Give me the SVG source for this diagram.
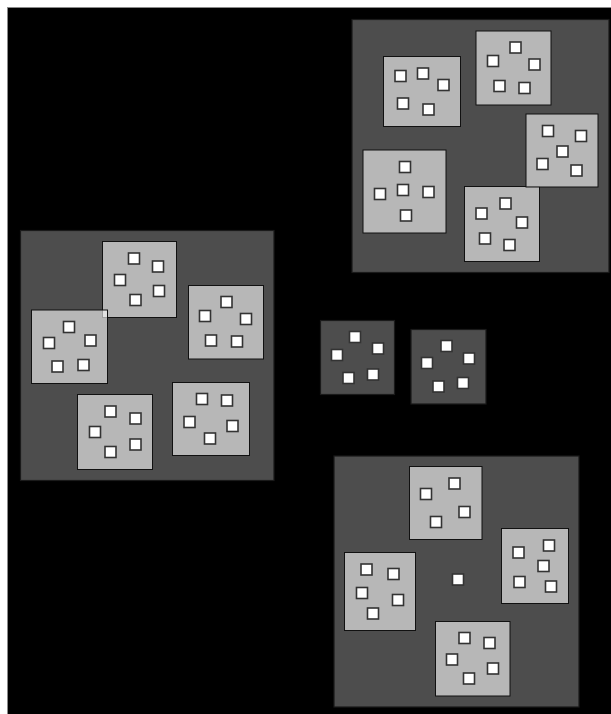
<svg xmlns="http://www.w3.org/2000/svg" width="611" height="714" viewBox="0 0 611 714">
<style>
.big{fill:#4d4d4d;stroke:#1a1a1a;stroke-width:1.2}
.box{fill:#ffffff;fill-opacity:0.6;stroke:#111;stroke-width:1}
.sq{fill:#ffffff;stroke:#333;stroke-width:1.6}
</style>
<rect x="0" y="0" width="611" height="714" fill="#ffffff"/>
<rect x="7.5" y="7.5" width="610" height="712" fill="#000000" stroke="#8a8a8a" stroke-width="1"/>
<g id="cluster-top-right">
<rect class="big" x="352" y="19.5" width="257" height="253"/>
<g id="A"><rect class="box" x="383.5" y="56.5" width="77" height="70"/>
<rect class="sq" x="395" y="70.5" width="11" height="11"/><rect class="sq" x="417.5" y="68" width="11" height="11"/><rect class="sq" x="438" y="79.5" width="11" height="11"/><rect class="sq" x="397.5" y="98" width="11" height="11"/><rect class="sq" x="423" y="104" width="11" height="11"/></g>
<g id="B"><rect class="box" x="476" y="31" width="75" height="74"/>
<rect class="sq" x="510" y="42" width="11" height="11"/><rect class="sq" x="487.5" y="55.5" width="11" height="11"/><rect class="sq" x="529" y="59" width="11" height="11"/><rect class="sq" x="494" y="80.5" width="11" height="11"/><rect class="sq" x="519" y="82.5" width="11" height="11"/></g>
<g id="E"><rect class="box" x="464.5" y="186.5" width="75" height="75"/>
<rect class="sq" x="500" y="198" width="11" height="11"/><rect class="sq" x="476" y="208" width="11" height="11"/><rect class="sq" x="516.5" y="217" width="11" height="11"/><rect class="sq" x="479.5" y="233" width="11" height="11"/><rect class="sq" x="504" y="239.5" width="11" height="11"/></g>
<g id="C"><rect class="box" x="526" y="114" width="72" height="73"/>
<rect class="sq" x="542.5" y="125.5" width="11" height="11"/><rect class="sq" x="575.5" y="130.5" width="11" height="11"/><rect class="sq" x="557" y="146" width="11" height="11"/><rect class="sq" x="537" y="158.5" width="11" height="11"/><rect class="sq" x="571" y="165" width="11" height="11"/></g>
<g id="D"><rect class="box" x="363" y="150" width="83" height="83"/>
<rect class="sq" x="399.5" y="161.5" width="11" height="11"/><rect class="sq" x="374.5" y="188.5" width="11" height="11"/><rect class="sq" x="397.5" y="184.5" width="11" height="11"/><rect class="sq" x="423" y="186.5" width="11" height="11"/><rect class="sq" x="400.5" y="210" width="11" height="11"/></g>
</g>
<g id="cluster-left">
<rect class="big" x="20.5" y="230.5" width="253.5" height="250"/>
<g id="F"><rect class="box" x="102.5" y="241.5" width="74" height="76"/>
<rect class="sq" x="128.5" y="253" width="11" height="11"/><rect class="sq" x="152.5" y="261" width="11" height="11"/><rect class="sq" x="114.5" y="274.5" width="11" height="11"/><rect class="sq" x="153.5" y="285.5" width="11" height="11"/><rect class="sq" x="130" y="294.5" width="11" height="11"/></g>
<g id="G"><rect class="box" x="31.5" y="310" width="76" height="73.5"/>
<rect class="sq" x="63.5" y="321.5" width="11" height="11"/><rect class="sq" x="43.5" y="337.5" width="11" height="11"/><rect class="sq" x="85" y="335" width="11" height="11"/><rect class="sq" x="52" y="361" width="11" height="11"/><rect class="sq" x="78" y="359.5" width="11" height="11"/></g>
<g id="H"><rect class="box" x="188.5" y="285.5" width="75" height="73.5"/>
<rect class="sq" x="221" y="296.5" width="11" height="11"/><rect class="sq" x="199.5" y="310.5" width="11" height="11"/><rect class="sq" x="240.5" y="313.5" width="11" height="11"/><rect class="sq" x="205.5" y="335" width="11" height="11"/><rect class="sq" x="231.5" y="336" width="11" height="11"/></g>
<g id="I"><rect class="box" x="77.5" y="394.5" width="75" height="75"/>
<rect class="sq" x="105" y="406" width="11" height="11"/><rect class="sq" x="130" y="413" width="11" height="11"/><rect class="sq" x="89.5" y="426.5" width="11" height="11"/><rect class="sq" x="130" y="439" width="11" height="11"/><rect class="sq" x="105" y="446.5" width="11" height="11"/></g>
<g id="J"><rect class="box" x="172.5" y="382.5" width="77" height="73"/>
<rect class="sq" x="196.5" y="393.5" width="11" height="11"/><rect class="sq" x="221.5" y="395" width="11" height="11"/><rect class="sq" x="184" y="416.5" width="11" height="11"/><rect class="sq" x="227" y="420.5" width="11" height="11"/><rect class="sq" x="204.5" y="433" width="11" height="11"/></g>
</g>
<g id="K">
<rect class="big" x="320.5" y="320.5" width="74" height="74"/>
<rect class="sq" x="349.5" y="331.5" width="11" height="11"/><rect class="sq" x="372.5" y="343" width="11" height="11"/><rect class="sq" x="331.5" y="349.5" width="11" height="11"/><rect class="sq" x="343" y="372.5" width="11" height="11"/><rect class="sq" x="367.5" y="369" width="11" height="11"/>
</g>
<g id="L">
<rect class="big" x="411" y="329.5" width="75" height="74.5"/>
<rect class="sq" x="441" y="340.5" width="11" height="11"/><rect class="sq" x="463.5" y="353" width="11" height="11"/><rect class="sq" x="421.5" y="357.5" width="11" height="11"/><rect class="sq" x="433" y="381" width="11" height="11"/><rect class="sq" x="457.5" y="377.5" width="11" height="11"/>
</g>
<g id="cluster-bottom">
<rect class="big" x="334" y="456" width="245" height="251"/>
<g id="M"><rect class="box" x="409.5" y="466.5" width="72.5" height="73"/>
<rect class="sq" x="420.5" y="488.5" width="11" height="11"/><rect class="sq" x="449" y="478" width="11" height="11"/><rect class="sq" x="459" y="506.5" width="11" height="11"/><rect class="sq" x="430.5" y="516.5" width="11" height="11"/></g>
<g id="N"><rect class="box" x="501.5" y="528.5" width="67" height="75"/>
<rect class="sq" x="513" y="547" width="11" height="11"/><rect class="sq" x="543.5" y="540" width="11" height="11"/><rect class="sq" x="538" y="560.5" width="11" height="11"/><rect class="sq" x="514" y="576.5" width="11" height="11"/><rect class="sq" x="545.5" y="581" width="11" height="11"/></g>
<g id="O"><rect class="box" x="344.5" y="552.5" width="71" height="78"/>
<rect class="sq" x="361" y="564" width="11" height="11"/><rect class="sq" x="388" y="568.5" width="11" height="11"/><rect class="sq" x="356.5" y="587.5" width="11" height="11"/><rect class="sq" x="392.5" y="594.5" width="11" height="11"/><rect class="sq" x="367.5" y="608" width="11" height="11"/></g>
<g id="center"><rect class="sq" x="452.5" y="574" width="11" height="11"/></g>
<g id="P"><rect class="box" x="435.5" y="621.5" width="74.5" height="74.5"/>
<rect class="sq" x="459" y="632.5" width="11" height="11"/><rect class="sq" x="484" y="637.5" width="11" height="11"/><rect class="sq" x="446.5" y="654" width="11" height="11"/><rect class="sq" x="487.5" y="663" width="11" height="11"/><rect class="sq" x="463.5" y="673" width="11" height="11"/></g>
</g>
<g id="connectors"></g>
</svg>
